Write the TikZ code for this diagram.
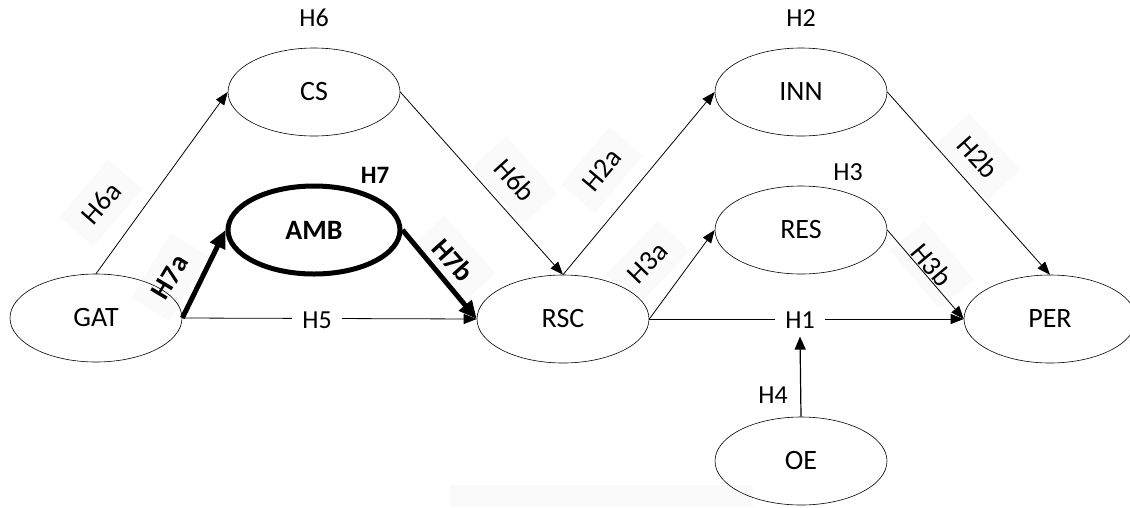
\documentclass[tikz,border=0pt]{standalone}
\usepackage{fontspec}
\setmainfont{Carlito}
\usetikzlibrary{shapes.geometric,arrows.meta}
\begin{document}
\begin{tikzpicture}[x=1pt,y=-1pt,
  var/.style={ellipse,draw,line width=0.6pt,minimum width=172pt,minimum height=88pt,inner sep=0pt,font=\fontsize{28}{30}\selectfont},
  hyp/.style={font=\fontsize{26}{28}\selectfont,inner sep=2pt},
  boldhyp/.style={hyp,font=\bfseries\fontsize{25}{27}\selectfont},
  rhyp/.style={font=\fontsize{28}{30}\selectfont,fill=black!2,inner xsep=15pt,inner ysep=13pt},
  rboldhyp/.style={rhyp,font=\bfseries\fontsize{28}{30}\selectfont},
  arr/.style={line width=0.8pt,-{Triangle[length=13pt,width=10pt]}},
  thickarr/.style={line width=5pt,-{Triangle[length=18pt,width=16pt]}},
]
\useasboundingbox (0,0) rectangle (1130,507);
\fill[black!2] (450,485) rectangle (753,507);
% rotated labels with faint backgrounds
\node[rhyp,rotate=49] (lH6a) at (101,203) {H6a};
\node[rboldhyp,rotate=59] (lH7a) at (170,277) {H7a};
\node[rboldhyp,rotate=-48] (lH7b) at (453,260) {H7b};
\node[rhyp,rotate=-48] (lH6b) at (515,180) {H6b};
\node[rhyp,rotate=50] (lH2a) at (602,170) {H2a};
\node[rhyp,rotate=46] (lH3a) at (648,263) {H3a};
\node[rhyp,rotate=-48] (lH2b) at (978,157) {H2b};
\node[rhyp,rotate=-50] (lH3b) at (932,265) {H3b};
% variables
\node[var] (GAT) at (96,318) {GAT};
\node[var] (CS) at (314,92) {CS};
\node[var,line width=5pt,font=\bfseries\fontsize{28}{30}\selectfont] (AMB) at (314,230) {AMB};
\node[var] (RSC) at (563,319) {RSC};
\node[var] (INN) at (801,92) {INN};
\node[var] (RES) at (801,230) {RES};
\node[var] (PER) at (1050,319) {PER};
\node[var] (OE) at (801,461) {OE};
% connectors
\draw[arr] (GAT.north) -- (CS.west);
\draw[arr] (CS.east) -- (RSC.north);
\draw[arr] (RSC.north) -- (INN.west);
\draw[arr] (RSC.east) -- (RES.west);
\draw[arr] (INN.east) -- (PER.north);
\draw[arr] (RES.east) -- (PER.west);
\draw[arr] (RSC.east) -- (PER.west);
\draw[arr] (GAT.east) -- (RSC.west);
\draw[thickarr] (GAT.east) -- (AMB.west);
\draw[thickarr] (AMB.east) -- (RSC.west);
% labels on straight lines
\node[hyp,fill=white,inner xsep=10pt] (H5) at (317,320) {H5};
\node[hyp,fill=white,inner xsep=10pt] (H1) at (800,320) {H1};
\draw[line width=1.2pt,-{Triangle[length=13pt,width=11pt]}] (OE.north) -- ([yshift=-6pt]H1.south);
% plain labels
\node[hyp] (H6) at (314,18) {H6};
\node[hyp] (H2) at (801,18) {H2};
\node[hyp] (H3) at (848,172) {H3};
\node[boldhyp] (H7) at (375,175) {H7};
\node[hyp] (H4) at (773,395) {H4};
\end{tikzpicture}
\end{document}
